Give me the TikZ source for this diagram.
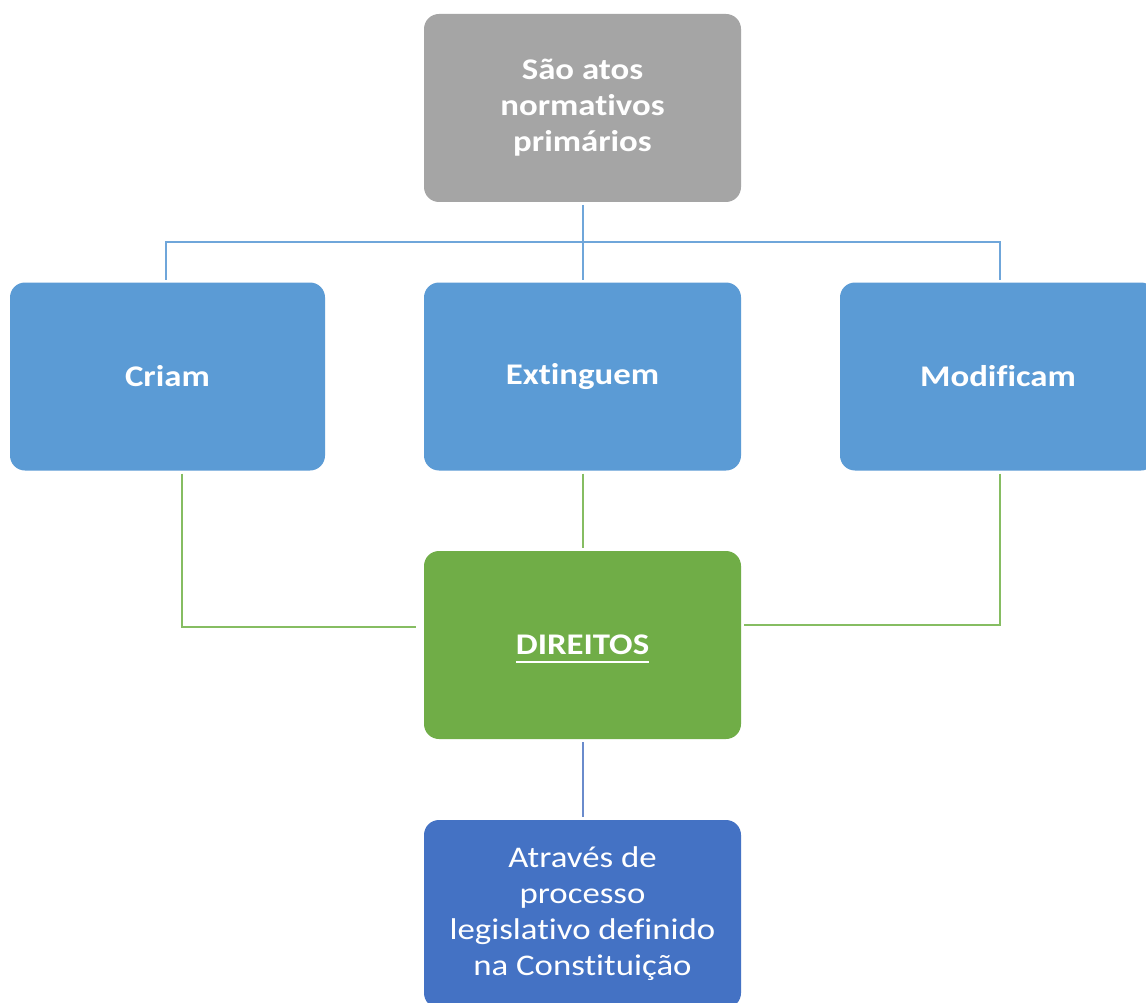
\documentclass[tikz,border=0pt]{standalone}
\usepackage{fontspec}
\setmainfont{Carlito}[FakeStretch=1.16, Ligatures=NoCommon]
\definecolor{cgray}{HTML}{A5A5A5}
\definecolor{cblue}{HTML}{5B9BD5}
\definecolor{cgreen}{HTML}{70AD47}
\definecolor{cdblue}{HTML}{4472C4}
\definecolor{lblue}{HTML}{6FA6DA}
\definecolor{lgreen}{HTML}{86BD62}
\definecolor{ldblue}{HTML}{6A8BCC}
\newcommand\myul[1]{\setbox0\hbox{#1}\rlap{\smash{\rule[-8pt]{\wd0}{2pt}}}\box0}
\tikzset{
  boxbase/.style={rounded corners=15pt, text=white, align=center,
    minimum width=317pt, minimum height=188pt, inner sep=0pt, outer sep=3pt,
    font=\fontsize{30}{36}\selectfont},
  graybox/.style={boxbase, fill=cgray, font=\fontsize{30}{36}\selectfont\bfseries},
  bluebox/.style={boxbase, fill=cblue, font=\fontsize{30}{36}\selectfont\bfseries},
  greenbox/.style={boxbase, fill=cgreen, font=\fontsize{30}{36}\selectfont\bfseries},
  dbluebox/.style={boxbase, fill=cdblue},
  blueline/.style={draw=lblue, line width=2pt},
  greenline/.style={draw=lgreen, line width=2pt},
  dblueline/.style={draw=ldblue, line width=2pt},
}
\begin{document}
\begin{tikzpicture}[x=1pt,y=-1pt]
\useasboundingbox (0,0) rectangle (1146,1003);
\clip (0,0) rectangle (1146,1003);
\fill[white] (0,0) rectangle (1146,1003);
\node[graybox] (top) at (582.5,108) {São atos\\normativos\\primários};
\node[bluebox, minimum width=315pt] (criam) at (167.5,376.5) {Criam};
\node[bluebox] (ext) at (582.5,376.5) {Extinguem};
\node[bluebox, minimum width=316pt] (mod) at (998,376.5) {Modificam};
\node[greenbox] (dir) at (582.5,645) {\myul{DIREITOS}};
\node[dbluebox] (bot) at (582.5,914) {Através de\\processo\\legislativo definido\\na Constituição};
\coordinate (bus) at (582.5,242);
\draw[blueline] (top.south) -- (bus);
\draw[blueline] (bus) -- (ext.north);
\draw[blueline] ([xshift=-1.5pt]criam.north) |- (bus) -| ([xshift=2pt]mod.north);
\draw[greenline] ([xshift=14.5pt]criam.south) |- ([xshift=-5pt,yshift=18pt]dir.west);
\draw[greenline] (ext.south) -- (dir.north);
\draw[greenline] ([xshift=2pt]mod.south) |- ([yshift=20pt]dir.east);
\draw[dblueline] (dir.south) -- (bot.north);
\end{tikzpicture}
\end{document}
